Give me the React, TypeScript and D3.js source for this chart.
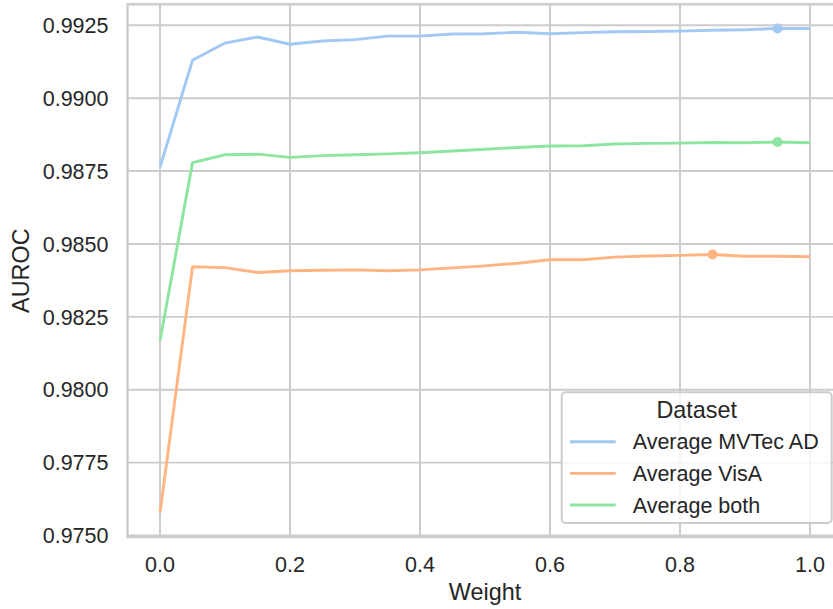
import React from "react";
import * as d3 from "d3";

const weights = [0, 0.05, 0.1, 0.15, 0.2, 0.25, 0.3, 0.35, 0.4, 0.45, 0.5, 0.55, 0.6, 0.65, 0.7, 0.75, 0.8, 0.85, 0.9, 0.95, 1.0];

const mvtec = [0.98763, 0.9913, 0.99189, 0.9921, 0.99185, 0.99196, 0.99201, 0.99213, 0.99213, 0.9922, 0.99221,
  0.99226, 0.99221, 0.99225, 0.99228, 0.99229, 0.9923, 0.99233, 0.99235, 0.99239, 0.99239];
const visa = [0.97578, 0.98422, 0.98419, 0.98402, 0.98408, 0.9841, 0.98411, 0.98408, 0.98411, 0.98418, 0.98425,
  0.98434, 0.98446, 0.98446, 0.98455, 0.98459, 0.98461, 0.98464, 0.98458, 0.98458, 0.98456];
const both = [0.98168, 0.98779, 0.98806, 0.98808, 0.98797, 0.98803, 0.98806, 0.98809, 0.98813, 0.98819, 0.98825,
  0.98831, 0.98836, 0.98837, 0.98843, 0.98845, 0.98846, 0.98848, 0.98847, 0.9885, 0.98847];

const seriesNames = ["Average MVTec AD", "Average VisA", "Average both"];
const seriesColors = ["#a1c9f4", "#ffb482", "#8de5a1"];
// best weight per dataset (marked with a dot)
const bestIdx = [19, 17, 19];

const xTicks = [0, 0.2, 0.4, 0.6, 0.8, 1.0];
const yTicks = [0.975, 0.9775, 0.98, 0.9825, 0.985, 0.9875, 0.99, 0.9925];

const W = 833, H = 609;
const FONT = "'Liberation Sans', Arial, Helvetica, sans-serif";
const TXT = "#262626";
const GRID = "#cccccc";

export default function App() {
  const allVals = [...mvtec, ...visa, ...both];
  const [lo, hi] = d3.extent(allVals) as [number, number];
  const pad = (hi - lo) * 0.05;

  const left = 127.5, top = 4.3, bottom = 537;
  const x = d3.scaleLinear().domain([-0.05, 1.05]).range([left, left + 715]);
  const y = d3.scaleLinear().domain([lo - pad, hi + pad]).range([bottom, top]);

  const series = [mvtec, visa, both];
  const line = d3.line<number>().x((_, i) => x(weights[i])).y(d => y(d));

  return (
    <svg width={W} height={H} style={{ position: "fixed", left: 0, top: 0, background: "#fff" }}
      fontFamily={FONT}>
      <rect x={0} y={0} width={W} height={H} fill="#fff" />
      {/* grid */}
      {xTicks.map(t => (
        <line key={"gx" + t} x1={x(t)} x2={x(t)} y1={top} y2={bottom} stroke={GRID} strokeWidth={1.96} />
      ))}
      {yTicks.map(t => (
        <line key={"gy" + t} x1={left} x2={W + 20} y1={y(t)} y2={y(t)} stroke={GRID} strokeWidth={1.96} />
      ))}
      {/* frame */}
      <rect x={left} y={top} width={715} height={bottom - top} fill="none" stroke={GRID} strokeWidth={2.44} />

      {/* lines */}
      {series.map((s, k) => (
        <path key={"l" + k} d={line(s) || ""} fill="none" stroke={seriesColors[k]} strokeWidth={2.9}
          strokeLinejoin="round" strokeLinecap="butt" />
      ))}
      {series.map((s, k) => (
        <circle key={"c" + k} cx={x(weights[bestIdx[k]])} cy={y(s[bestIdx[k]])} r={5} fill={seriesColors[k]} />
      ))}

      {/* y ticks */}
      {yTicks.map(t => (
        <text key={"ty" + t} x={108.5} y={y(t)} dy="0.36em" textAnchor="end" fontSize={21.5} fill={TXT}>
          {d3.format(".4f")(t)}
        </text>
      ))}
      {/* x ticks */}
      {xTicks.map(t => (
        <text key={"tx" + t} x={x(t)} y={572} textAnchor="middle" fontSize={21.5} fill={TXT}>
          {d3.format(".1f")(t)}
        </text>
      ))}
      <text x={(left + left + 715) / 2} y={600} textAnchor="middle" fontSize={23.4} fill={TXT}>Weight</text>
      <text transform={`translate(29,${(top + bottom) / 2}) rotate(-90)`} textAnchor="middle" fontSize={23.4} fill={TXT}>
        AUROC
      </text>

      {/* legend */}
      <g>
        <rect x={561.7} y={392.3} width={270} height={130.7} rx={4} fill="#fff" fillOpacity={0.8}
          stroke={GRID} strokeWidth={1.96} />
        <text x={696.7} y={418} textAnchor="middle" fontSize={23.4} fill={TXT}>Dataset</text>
        {seriesNames.map((n, k) => (
          <g key={"lg" + k}>
            <line x1={570} x2={615.7} y1={441.7 + k * 31.65} y2={441.7 + k * 31.65}
              stroke={seriesColors[k]} strokeWidth={2.9} />
            <text x={632.7} y={449.3 + k * 31.65} fontSize={21.5} fill={TXT}>{n}</text>
          </g>
        ))}
      </g>
    </svg>
  );
}
